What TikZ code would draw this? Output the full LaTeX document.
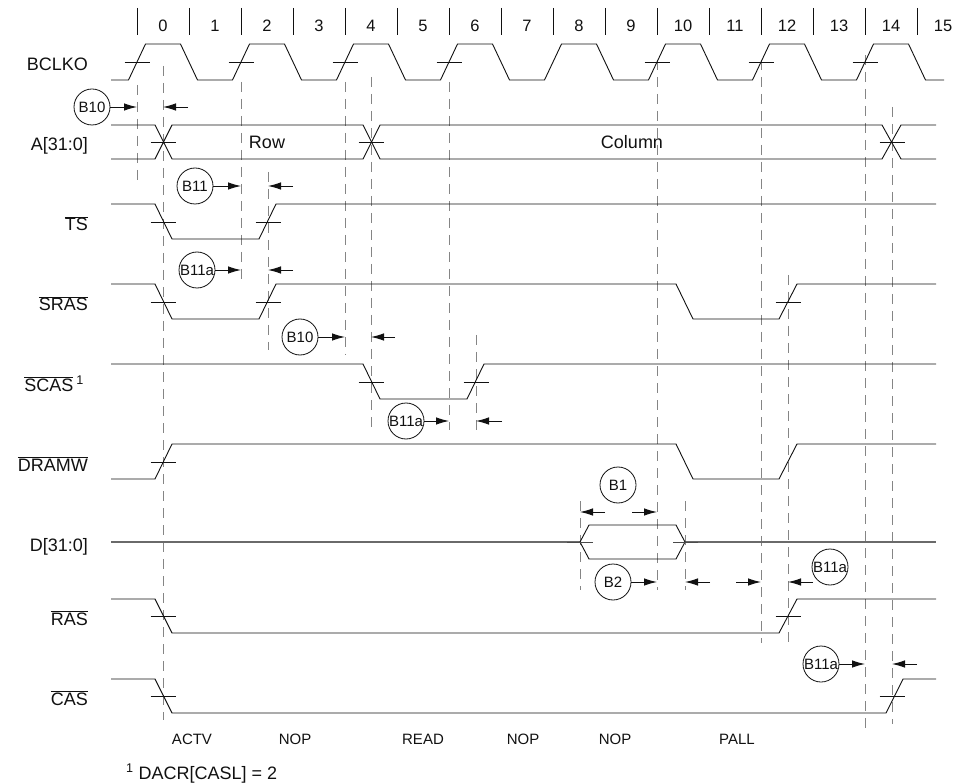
\documentclass[tikz,border=0pt]{standalone}
\usepackage{fontspec}
\setmainfont{Liberation Sans}
\usepackage{tikz}
\usetikzlibrary{arrows.meta,calc}
\definecolor{ink}{HTML}{111111}
\definecolor{guidegray}{HTML}{858585}
\definecolor{busgray}{HTML}{6A6A6A}
\newcommand{\ovl}[1]{$\overline{\mbox{#1}}$}
\tikzset{sig/.style={draw=ink,line width=0.9pt},guide/.style={draw=guidegray,line width=0.9pt,dash pattern=on 10pt off 7pt},tk/.style={draw=ink,line width=0.8pt},lbl/.style={anchor=base east,inner sep=0pt,text=ink,font=\fontsize{18}{20}\selectfont},tmark/.style={draw=ink,circle,line width=0.8pt,minimum size=36pt,inner sep=0pt,text=ink,font=\fontsize{15}{17}\selectfont},arr/.style={-{Latex[length=13pt,width=7.5pt]},line width=0.9pt,draw=ink},cyc/.style={anchor=base,inner sep=0pt,text=ink,font=\fontsize{16.5}{18}\selectfont},cmd/.style={anchor=base,inner sep=0pt,text=ink,font=\fontsize{15}{17}\selectfont}}

\begin{document}
\begin{tikzpicture}[x=1pt,y=-1pt]
\useasboundingbox (0,0) rectangle (958,783);
\foreach \k in {0,...,15}{\draw[tk] ({137+52*\k},8) -- ({137+52*\k},35); \node[cyc] (n\k) at ({163+52*\k},32) {\k};}
\foreach \n/\x/\ya/\yb in {e0/137/85/185,ta/163/66/720,e2/241/82/279,tb/268/172/350,e4/345/82/355,tc/371/77/428,e6/449/82/430,td/476/335/430,da/580/501/590,e10/657/60/590,db/685/501/590,e12/761/60/643,te/788/275/643,e14/865/55/729,tf/892/107/724}{\coordinate (\n) at (\x,0); \draw[guide] (\x,\ya) -- (\x,\yb);}
\draw[sig] (111,80) \foreach \k in {0,...,7}{-- ({128.5+104*\k},80) -- ({145.5+104*\k},44) -- ({180.5+104*\k},44) -- ({197.5+104*\k},80)} -- (944,80);
\draw[sig] (111,125) -- (155,125) -- (172,159) -- (363,159) -- (380,125) -- (882,125) -- (901,159) -- (936,159);
\draw[sig] (111,159) -- (155,159) -- (172,125) -- (363,125) -- (380,159) -- (882,159) -- (901,125) -- (936,125);
\draw[sig] (111,204) -- (155,204) -- (172,239) -- (259,239) -- (276,204) -- (936,204);
\draw[sig] (111,284) -- (155,284) -- (172,319) -- (259,319) -- (276,284) -- (676,284) -- (693,319) -- (779,319) -- (797,284) -- (936,284);
\draw[sig] (111,364) -- (363,364) -- (380,399) -- (467,399) -- (484,364) -- (936,364);
\draw[sig] (111,479) -- (155,479) -- (172,444) -- (676,444) -- (693,479) -- (779,479) -- (797,444) -- (936,444);
\draw[sig,draw=busgray,line width=1.3pt] (111,542) -- (580,542) (685,542) -- (936,542);
\draw[sig] (580,542) -- (589,525) -- (676,525) -- (685,542) -- (676,559) -- (589,559) -- cycle;
\draw[sig] (111,599) -- (155,599) -- (172,633) -- (779,633) -- (797,599) -- (936,599);
\draw[sig] (111,679) -- (155,679) -- (172,713) -- (886,713) -- (903,679) -- (936,679);
\foreach \x/\y in {137/62,241/62,345/62,449/62,657/62,761/62,865/62,163/142,371/142,892/142,163/222,268/222,163/302,268/302,788/302,371/382,476/382,163/462,163/616,788/616,163/696,892/696}\draw[tk] ({\x-12.5},\y) -- ({\x+12.5},\y);
\draw[tk,draw=busgray!70!black] (567,542) -- (593,542) (673,542) -- (698,542);
\node[lbl] (lclk) at (88,71) {BCLKO};
\node[lbl] (laddr) at (88,151) {A[31:0]};
\node[lbl] (lts) at (88,231) {\ovl{TS}};
\node[lbl] (lsras) at (88,311) {\ovl{SRAS}};
\node[lbl] (lscas) at (84,391) {\ovl{SCAS}\,\textsuperscript{1}};
\node[lbl] (ldramw) at (88,471) {\ovl{DRAMW}};
\node[lbl] (ldata) at (88,551) {D[31:0]};
\node[lbl] (lras) at (88,625) {\ovl{RAS}};
\node[lbl] (lcas) at (88,705) {\ovl{CAS}};
\node[lbl,anchor=base] (row) at (267,149) {Row};
\node[lbl,anchor=base] (col) at (632,149) {Column};
\foreach \t/\x [count=\i] in {ACTV/192,NOP/295,READ/423,NOP/523,NOP/615,PALL/737}\node[cmd] (c\i) at (\x,744) {\t};
\node[lbl,anchor=base west] (fn) at (126,779) {\textsuperscript{1} DACR[CASL] = 2};
\node[tmark] (b10a) at (92,107) {B10};
\node[tmark] (b11) at (195,186) {B11};
\node[tmark] (b11a) at (197,270) {B11a};
\node[tmark] (b10b) at (300,337) {B10};
\node[tmark] (b11b) at (406,421) {B11a};
\node[tmark] (b1) at (618,485) {B1};
\node[tmark] (b2) at (613,582) {B2};
\node[tmark] (b11c) at (830,567) {B11a};
\node[tmark] (b11d) at (821,664) {B11a};
\coordinate (r1) at (0,512);
\draw[arr] (b10a) -- (b10a -| e0); \draw[arr] ($(b10a -| ta)+(25,0)$) -- (b10a -| ta);
\draw[arr] (b11) -- (b11 -| e2); \draw[arr] ($(b11 -| tb)+(25,0)$) -- (b11 -| tb);
\draw[arr] (b11a) -- (b11a -| e2); \draw[arr] ($(b11a -| tb)+(25,0)$) -- (b11a -| tb);
\draw[arr] (b10b) -- (b10b -| e4); \draw[arr] ($(b10b -| tc)+(24,0)$) -- (b10b -| tc);
\draw[arr] (b11b) -- (b11b -| e6); \draw[arr] ($(b11b -| td)+(26,0)$) -- (b11b -| td);
\draw[arr] ($(r1 -| da)+(25,0)$) -- (r1 -| da); \draw[arr] ($(r1 -| e10)+(-25,0)$) -- (r1 -| e10);
\draw[arr] (b2) -- (b2 -| e10); \draw[arr] ($(b2 -| db)+(25,0)$) -- (b2 -| db);
\draw[arr] ($(b2 -| e12)+(-25,0)$) -- (b2 -| e12); \draw[arr] ($(b2 -| te)+(25,0)$) -- (b2 -| te);
\draw[arr] (b11d) -- (b11d -| e14); \draw[arr] ($(b11d -| tf)+(25,0)$) -- (b11d -| tf);
\end{tikzpicture}
\end{document}
